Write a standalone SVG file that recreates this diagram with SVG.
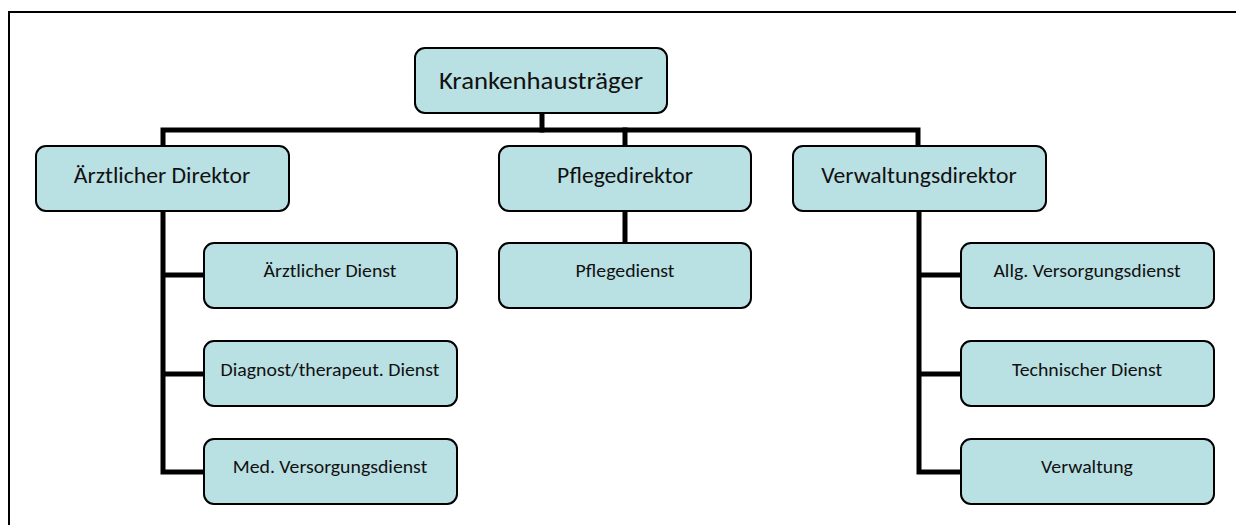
<svg xmlns="http://www.w3.org/2000/svg" width="1236" height="525" viewBox="0 0 1236 525">
  <style>
    .box { fill: #b9e0e3; stroke: #000; stroke-width: 2; }
    .lbl { font-family: Carlito, "Liberation Sans", sans-serif; fill: #111; text-anchor: middle; }
    .big { font-size: 24.3px; }
    .mid { font-size: 21.5px; }
    .small { font-size: 18px; }
    .conn { fill: none; stroke: #000; stroke-width: 5; stroke-linejoin: miter; stroke-linecap: square; }
    .frame { fill: none; stroke: #000; stroke-width: 2; }
  </style>
  <rect width="1236" height="525" fill="#fff"/>
  <!-- page frame (top and left edges) -->
  <path class="frame" d="M9 525 V12 H1236"/>

  <!-- connectors -->
  <g id="connectors">
    <path class="conn" d="M542 113 V130"/>
    <path class="conn" d="M163 146 V130 H918 V146"/>
    <path class="conn" d="M625 130 V146"/>
    <path class="conn" d="M625 211 V243"/>
    <path class="conn" d="M163 211 V472 H204 M163 275 H204 M163 374 H204"/>
    <path class="conn" d="M919 211 V472 H961 M919 275 H961 M919 374 H961"/>
  </g>

  <!-- labels use a slightly widened face: x is the box centre, scaled 1.1 horizontally -->
  <g id="root">
    <rect class="box" x="415" y="48" width="252" height="65" rx="10"/>
    <text class="lbl big" transform="translate(541 89) scale(1.1 1)">Krankenhausträger</text>
  </g>

  <g id="aerztl-direktor">
    <rect class="box" x="36" y="146" width="253" height="65" rx="10"/>
    <text class="lbl mid" transform="translate(162 183) scale(1.1 1)">Ärztlicher Direktor</text>
  </g>
  <g id="pflegedirektor">
    <rect class="box" x="499" y="146" width="252" height="65" rx="10"/>
    <text class="lbl mid" transform="translate(625 183) scale(1.1 1)">Pflegedirektor</text>
  </g>
  <g id="verwaltungsdirektor">
    <rect class="box" x="793" y="146" width="253" height="65" rx="10"/>
    <text class="lbl mid" transform="translate(919 183) scale(1.1 1)">Verwaltungsdirektor</text>
  </g>

  <g id="aerztl-dienst">
    <rect class="box" x="204" y="243" width="253" height="65" rx="10"/>
    <text class="lbl small" transform="translate(330 277) scale(1.1 1)">Ärztlicher Dienst</text>
  </g>
  <g id="diagnost-dienst">
    <rect class="box" x="204" y="341" width="253" height="65" rx="10"/>
    <text class="lbl small" transform="translate(330 376) scale(1.1 1)">Diagnost/therapeut. Dienst</text>
  </g>
  <g id="med-versorgung">
    <rect class="box" x="204" y="439" width="253" height="65" rx="10"/>
    <text class="lbl small" transform="translate(330 473) scale(1.1 1)">Med. Versorgungsdienst</text>
  </g>

  <g id="pflegedienst">
    <rect class="box" x="499" y="243" width="252" height="65" rx="10"/>
    <text class="lbl small" transform="translate(625 277) scale(1.1 1)">Pflegedienst</text>
  </g>

  <g id="allg-versorgung">
    <rect class="box" x="961" y="243" width="253" height="65" rx="10"/>
    <text class="lbl small" transform="translate(1087 277) scale(1.1 1)">Allg. Versorgungsdienst</text>
  </g>
  <g id="technischer-dienst">
    <rect class="box" x="961" y="341" width="253" height="65" rx="10"/>
    <text class="lbl small" transform="translate(1087 376) scale(1.1 1)">Technischer Dienst</text>
  </g>
  <g id="verwaltung">
    <rect class="box" x="961" y="439" width="253" height="65" rx="10"/>
    <text class="lbl small" transform="translate(1087 473) scale(1.1 1)">Verwaltung</text>
  </g>
</svg>
